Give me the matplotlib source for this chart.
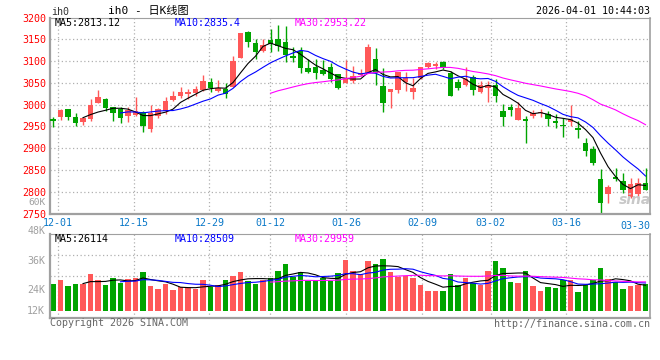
import matplotlib
matplotlib.use("Agg")
import matplotlib.pyplot as plt
import numpy as np
import pandas as pd

# ---------------- data ----------------
opens = [2967.1, 2971.7, 2989.3, 2970.9, 2960.2, 2967.1, 3003.8, 3012.3, 2993.9, 2990.0,
         2974.0, 2977.0, 2983.1, 2944.8, 2974.0, 2984.7, 3010.7, 3020.7, 3024.5, 3026.0,
         3033.7, 3051.3, 3030.6, 3036.0, 3040.6, 3106.5, 3166.2, 3140.9, 3123.3, 3149.4,
         3151.7, 3144.8, 3111.8, 3123.3, 3083.5, 3086.6, 3079.7, 3086.6, 3069.7, 3049.0,
         3054.4, 3067.4, 3073.5, 3104.2, 3042.1, 3029.9, 3033.7, 3052.1, 3029.1, 3062.0,
         3087.3, 3089.6, 3098.0, 3072.0, 3051.3, 3045.2, 3064.3, 3029.1, 3038.3, 3046.0,
         2984.7, 2993.9, 2964.8, 2967.1, 2974.0, 2980.1, 2979.3, 2961.7, 2954.0, 2960.9,
         2945.6, 2911.9, 2897.4, 2829.9, 2794.7, 2833.0, 2824.6, 2788.6, 2793.9, 2819.2]
closes = [2963.2, 2987.7, 2971.7, 2957.9, 2969.4, 2998.5, 3016.9, 2992.3, 2980.9, 2969.4,
          2988.5, 2984.7, 2951.0, 2980.1, 2989.3, 3008.4, 3019.2, 3028.3, 3028.3, 3035.2,
          3053.6, 3037.5, 3037.5, 3024.5, 3100.3, 3164.7, 3144.8, 3121.8, 3136.3, 3138.6,
          3134.8, 3114.1, 3106.5, 3083.5, 3075.8, 3073.5, 3071.2, 3059.7, 3037.5, 3059.7,
          3065.1, 3072.0, 3132.5, 3073.5, 3003.1, 3036.8, 3075.8, 3062.0, 3038.3, 3086.6,
          3095.8, 3092.7, 3083.5, 3019.9, 3038.3, 3058.2, 3033.7, 3045.2, 3046.0, 3019.9,
          2971.7, 2987.7, 2991.6, 2963.2, 2981.6, 2983.9, 2967.8, 2957.9, 2951.0, 2967.8,
          2942.5, 2894.3, 2865.2, 2774.8, 2811.6, 2828.4, 2803.9, 2816.9, 2819.2, 2803.9]
highs = [2971.7, 2990.8, 2990.8, 2980.1, 2972.4, 3012.3, 3033.7, 3014.6, 2995.4, 2993.9,
         2995.4, 3016.9, 2984.7, 3000.0, 2992.3, 3017.6, 3031.4, 3039.8, 3035.2, 3042.9,
         3067.4, 3062.0, 3055.9, 3049.0, 3111.1, 3164.7, 3169.3, 3150.1, 3150.1, 3173.9,
         3182.3, 3180.8, 3133.3, 3133.3, 3104.2, 3105.7, 3102.6, 3096.5, 3071.2, 3101.9,
         3088.1, 3081.2, 3138.6, 3129.5, 3083.5, 3036.8, 3075.8, 3075.8, 3062.0, 3086.6,
         3098.0, 3098.0, 3100.3, 3077.4, 3058.2, 3087.3, 3067.4, 3054.4, 3053.6, 3058.2,
         3000.8, 3000.8, 3006.1, 2974.0, 2987.7, 2990.8, 2984.7, 2979.3, 2969.4, 2998.5,
         2962.5, 2924.2, 2905.0, 2851.4, 2815.4, 2855.2, 2843.7, 2832.2, 2832.2, 2855.2]
lows = [2948.7, 2964.8, 2964.8, 2951.0, 2952.5, 2962.5, 3003.8, 2985.4, 2962.5, 2957.9,
        2960.9, 2974.0, 2937.2, 2937.2, 2969.4, 2977.8, 3008.4, 3015.3, 3012.3, 3019.9,
        3032.2, 3029.1, 3029.1, 3014.6, 3040.6, 3106.5, 3133.3, 3105.7, 3121.0, 3121.0,
        3123.3, 3098.8, 3098.0, 3073.5, 3072.0, 3059.7, 3068.2, 3052.1, 3035.2, 3049.0,
        3050.6, 3065.9, 3073.5, 3046.0, 2983.1, 2991.6, 3027.6, 3031.4, 3012.3, 3058.2,
        3085.0, 3081.2, 3081.2, 3019.9, 3033.7, 3042.9, 3021.4, 3026.0, 3006.1, 3006.1,
        2951.0, 2974.0, 2964.8, 2912.7, 2970.1, 2971.7, 2951.0, 2947.1, 2925.7, 2951.0,
        2922.6, 2882.0, 2861.4, 2751.8, 2774.8, 2824.6, 2797.8, 2784.8, 2782.4, 2803.9]
volumes = [27635, 31775, 25565, 27635, 27635, 37985, 31775, 26600, 33845, 29015,
           32810, 33845, 40055, 25565, 22460, 27635, 21425, 24530, 23495, 22115,
           31775, 24530, 26600, 31775, 35915, 40055, 30740, 27635, 31775, 33845,
           41090, 48335, 34880, 40055, 30740, 31775, 33845, 31085, 39020, 52475,
           41090, 37985, 51440, 48335, 53510, 40055, 34880, 35915, 33845, 26600,
           20390, 20390, 20390, 37985, 26600, 33845, 28670, 26940, 41090, 51440,
           44195, 29705, 28670, 41090, 25565, 20390, 24530, 23495, 31775, 31430,
           19355, 26600, 31775, 44195, 32810, 29705, 22460, 25565, 26600, 27635]

date_labels = ["12-01", "12-15", "12-29", "01-12", "01-26", "02-09", "03-02", "03-16", "03-30"]
date_index = [1, 11, 21, 29, 39, 49, 58, 68, 78]
price_ticks = [2750, 2800, 2850, 2900, 2950, 3000, 3050, 3100, 3150, 3200]
vol_tick_labels = ["48K", "36K", "24K", "12K"]

price_ma_text = ["MA5:2813.12", "MA10:2835.4", "MA30:2953.22"]
vol_ma_text = ["MA5:26114", "MA10:28509", "MA30:29959"]

# ---------------- style ----------------
RED = "#ff5858"
GREEN = "#00a400"
MONO = ["DejaVu Sans Mono", "Noto Sans CJK SC"]
FS = 7.2
W, H = 660, 360

plt.rcParams["font.family"] = MONO

n = len(closes)
x = np.arange(n)
o = np.array(opens); c = np.array(closes); hi = np.array(highs); lo = np.array(lows)
v = np.array(volumes)
up = c >= o
cols = np.where(up, RED, GREEN)

fig = plt.figure(figsize=(W / 100, H / 100), dpi=100)
fig.patch.set_facecolor("white")

def fx(px):
    return px / W

def fy(py):
    return 1 - py / H

XL = (-0.4, n - 0.4)
grid_x = [XL[0] + k * n / (n - 1) for k in date_index]
GRID_KW = dict(color="#b0b0b0", lw=0.9, ls=(0, (1, 2)), zorder=0)
MA_LW = 0.8

# ---------- price panel ----------
p_top, p_bot = 17.5, 213.5
axp = fig.add_axes([fx(50), fy(p_bot), fx(600), (p_bot - p_top) / H])
axp.set_xlim(*XL)
axp.set_ylim(2750, 3200)

for yv in price_ticks[1:-1]:
    axp.axhline(yv, **GRID_KW)
for gx in grid_x[:-1]:
    axp.axvline(gx, **GRID_KW)

axp.vlines(x, lo, hi, colors=cols, lw=1.0, zorder=2)
body = np.maximum(np.abs(c - o), 0.9)
axp.bar(x, body, bottom=np.minimum(o, c), width=0.72, color=cols, lw=0, zorder=3)

cs = pd.Series(c)
axp.plot(x, cs.rolling(5).mean(), color="black", lw=MA_LW, zorder=4)
axp.plot(x, cs.rolling(10).mean(), color="#0000ff", lw=MA_LW, zorder=4)
axp.plot(x, cs.rolling(30).mean(), color="#ff00ff", lw=MA_LW, zorder=4)

axp.set_yticks(price_ticks)
axp.set_yticklabels([str(t) for t in price_ticks], color="#ff0000", fontsize=FS)
axp.set_xticks(grid_x[:-1])
axp.set_xticklabels(date_labels[:-1], color="#0a78c8", fontsize=FS)
axp.text(1.0, -0.038, date_labels[-1], transform=axp.transAxes, ha="right", va="top",
         color="#0a78c8", fontsize=FS)
axp.tick_params(axis="both", length=0, pad=3)
for side in ["left", "right", "bottom", "top"]:
    axp.spines[side].set_color("#a0a0a0")
axp.spines["left"].set_linewidth(1.6)
axp.spines["bottom"].set_linewidth(1.6)
axp.spines["right"].set_linewidth(1.2)
axp.spines["top"].set_linewidth(0.8)

hx = [55, 175, 295]
hc = ["black", "#0000ff", "#ff00ff"]
for t, px_, col in zip(price_ma_text, hx, hc):
    fig.text(fx(px_), fy(23.3), t, color=col, fontsize=FS, ha="left", va="center")

axp.text(-0.008, 0.058, "60K", transform=axp.transAxes, ha="right", va="center",
         color="#a0a0a0", fontsize=6.8)
axp.text(0.975, 0.07, "sina", transform=axp.transAxes, ha="center", va="center",
         color="#c8c8c8", fontsize=10, fontstyle="italic", fontweight="bold",
         family="DejaVu Sans", zorder=5)

# ---------- volume panel ----------
v_top, v_bot = 234.3, 317.7
axv = fig.add_axes([fx(50), fy(v_bot), fx(600), (v_bot - v_top) / H])
axv.set_xlim(*XL)
VL = (-7245, 79074)
axv.set_ylim(*VL)
for f in (0.25, 0.5, 0.75):
    axv.axhline(VL[0] + f * (VL[1] - VL[0]), **GRID_KW)
for gx in grid_x[:-1]:
    axv.axvline(gx, **GRID_KW)
axv.bar(x, v, width=0.76, color=cols, lw=0, zorder=2)
vs = pd.Series(v)
axv.plot(x, vs.rolling(5).mean(), color="black", lw=MA_LW, zorder=4)
axv.plot(x, vs.rolling(10).mean(), color="#0000ff", lw=MA_LW, zorder=4)
axv.plot(x, vs.rolling(30).mean(), color="#ff00ff", lw=MA_LW, zorder=4)
axv.set_xticks([]); axv.set_yticks([])
for side in ["left", "right", "bottom", "top"]:
    axv.spines[side].set_color("#a0a0a0")
axv.spines["left"].set_linewidth(1.6)
axv.spines["bottom"].set_linewidth(1.6)
axv.spines["right"].set_linewidth(1.2)
axv.spines["top"].set_linewidth(0.8)

for t, fr in zip(vol_tick_labels, [1.043, 0.68, 0.332, 0.084]):
    axv.text(-0.008, fr, t, transform=axv.transAxes, ha="right", va="center",
             color="#a0a0a0", fontsize=FS)
for t, px_, col in zip(vol_ma_text, hx, hc):
    fig.text(fx(px_), fy(238.5), t, color=col, fontsize=FS, ha="left", va="center")

# ---------- header / footer ----------
fig.text(fx(51), fy(12), "ih0", fontsize=FS, color="#333333", ha="left", va="center")
fig.text(fx(148), fy(11), "ih0 - 日K线图", fontsize=8, color="black", ha="center", va="center")
fig.text(fx(650), fy(11), "2026-04-01 10:44:03", fontsize=FS, color="black", ha="right", va="center")
fig.text(fx(50), fy(323.5), "Copyright 2026 SINA.COM", fontsize=FS, color="#666666", ha="left", va="center")
fig.text(fx(650), fy(324), "http://finance.sina.com.cn", fontsize=FS, color="#666666", ha="right", va="center")

fig.savefig("out.png", dpi=100, facecolor="white")
